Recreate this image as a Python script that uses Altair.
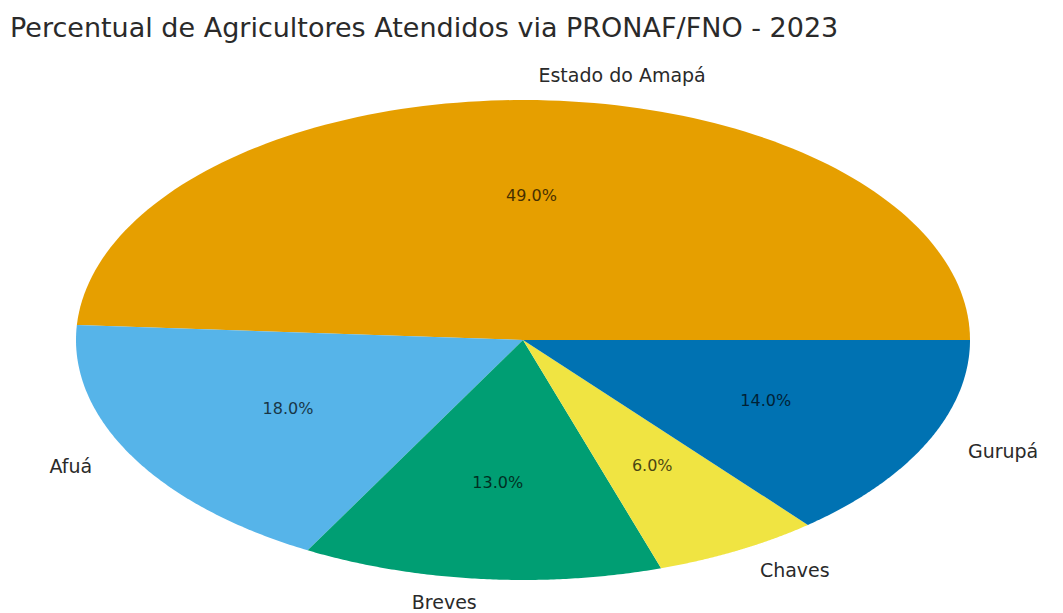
import altair as alt
import pandas as pd

labels = ["Estado do Amapá", "Afuá", "Breves", "Chaves", "Gurupá"]
values = [49, 18, 13, 6, 14]
colors = ["#E69F00", "#56B4E9", "#009E73", "#F0E442", "#0072B2"]
title_text = "Percentual de Agricultores Atendidos via PRONAF/FNO - 2023"

df = pd.DataFrame({"label": labels, "value": values, "idx": list(range(len(labels)))})

N = 120
FONT = "DejaVu Sans"

xs = alt.Scale(domain=[-1, 1], nice=False, zero=False)
ys = alt.Scale(domain=[-1, 1], nice=False, zero=False)
cs = alt.Scale(domain=labels, range=colors)

base = (
    alt.Chart(df)
    .transform_window(cum="sum(value)", frame=[None, 0], sort=[alt.SortField("idx")])
    .transform_joinaggregate(total="sum(value)")
    .transform_calculate(
        a0="(datum.cum - datum.value) / datum.total * 2 * PI",
        a1="datum.cum / datum.total * 2 * PI",
    )
    .transform_calculate(mid="(datum.a0 + datum.a1) / 2")
)

slices = (
    base.transform_calculate(k=f"sequence(0, {N + 2})")
    .transform_flatten(["k"])
    .transform_calculate(
        t=f"datum.a0 + (datum.a1 - datum.a0) * (datum.k - 1) / {N}"
    )
    .transform_calculate(
        px="datum.k == 0 ? 0 : cos(datum.t)",
        py="datum.k == 0 ? 0 : sin(datum.t)",
    )
    .mark_line(filled=True, strokeWidth=0, interpolate="linear")
    .encode(
        x=alt.X("px:Q", scale=xs, axis=None),
        y=alt.Y("py:Q", scale=ys, axis=None),
        color=alt.Color("label:N", scale=cs, legend=None),
        order=alt.Order("k:Q"),
    )
)

lab = base.transform_calculate(
    lx="1.1 * cos(datum.mid)", ly="1.1 * sin(datum.mid)"
)

lab_right = lab.transform_filter("datum.lx > 0").mark_text(
    align="left", baseline="middle", font=FONT, fontSize=19, color="#2a2a2a"
).encode(x=alt.X("lx:Q", scale=xs), y=alt.Y("ly:Q", scale=ys), text="label:N")

lab_left = lab.transform_filter("datum.lx <= 0").mark_text(
    align="right", baseline="middle", font=FONT, fontSize=19, color="#2a2a2a"
).encode(x=alt.X("lx:Q", scale=xs), y=alt.Y("ly:Q", scale=ys), text="label:N")

pct = (
    base.transform_calculate(
        qx="0.6 * cos(datum.mid)",
        qy="0.6 * sin(datum.mid)",
        ptxt="format(datum.value / datum.total * 100, '.1f') + '%'",
    )
    .mark_text(align="center", baseline="middle", font=FONT, fontSize=16,
               color="#000000", opacity=0.7)
    .encode(x=alt.X("qx:Q", scale=xs), y=alt.Y("qy:Q", scale=ys), text="ptxt:N")
)

chart = (
    alt.layer(slices, lab_right, lab_left, pct)
    .properties(
        width=894,
        height=480,
        autosize=alt.AutoSizeParams(type="none"),
        padding={"left": 76, "top": 100, "right": 93, "bottom": 33},
        title=alt.TitleParams(
            text=title_text,
            anchor="start",
            frame="group",
            dx=-66,
            offset=3,
            baseline="alphabetic",
            font=FONT,
            fontSize=27,
            fontWeight="normal",
            color="#2a2a2a",
        ),
    )
    .configure_view(stroke=None)
)

chart.save("out.html", embed_options={"renderer": "svg", "actions": False})
